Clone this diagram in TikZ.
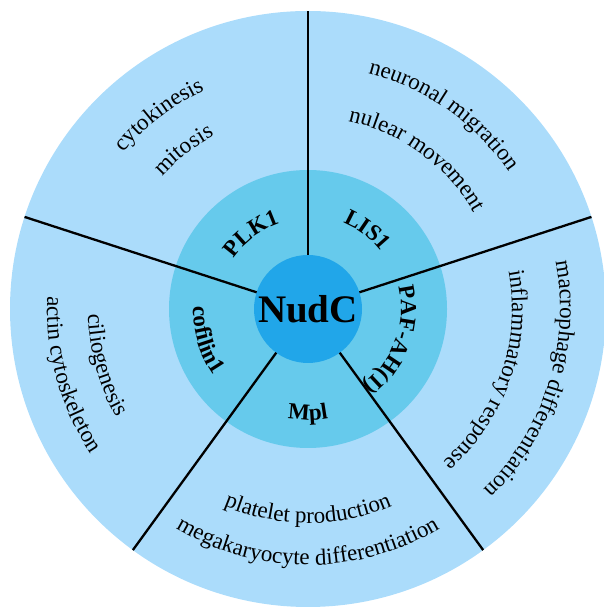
\documentclass[tikz,border=0pt]{standalone}
\usepackage{fontspec}
\setmainfont{Liberation Serif}
\usetikzlibrary{decorations.text}
\definecolor{outerblue}{HTML}{ABDCFB}
\definecolor{ringblue}{HTML}{66CAEC}
\definecolor{coreblue}{HTML}{21A6E9}
\newcommand{\outfont}{\fontsize{23}{26}\selectfont}
\newcommand{\infont}{\bfseries\fontsize{23}{26}\selectfont}
\tikzset{
  divider/.style={draw=black, line width=2.3pt},
  arclabel/.style={decorate, decoration={text along path, text align=center, text={#1}}}
}
\begin{document}
\begin{tikzpicture}[x=1pt,y=1pt]
\useasboundingbox (0,0) rectangle (603,609);
\coordinate (C) at (308,300);
\node[circle, fill=outerblue, minimum size=596pt, inner sep=0pt, outer sep=0pt] (outer) at (C) {};
\node[circle, fill=ringblue, minimum size=278pt, inner sep=0pt, outer sep=0pt] (ring) at (C) {};
\node[circle, fill=coreblue, minimum size=108pt, inner sep=0pt, outer sep=0pt,
      font=\bfseries\fontsize{39}{40}\selectfont] (nudc) at (C) {NudC};
\foreach \a in {90,162,234,306,18}{
  \draw[divider] (nudc.\a) -- (outer.\a);
}
% inner labels, tops outward (clockwise)
\path[arclabel={|\infont|PLK1}] ([shift={(197:90pt)}]C) arc[start angle=197, end angle=57, radius=90pt];
\path[arclabel={|\infont|LIS1}] ([shift={(123:93pt)}]C) arc[start angle=123, end angle=-17, radius=93pt];
\path[arclabel={|\infont|PAF-AH(I)}] ([shift={(50:93pt)}]C) arc[start angle=50, end angle=-90, radius=93pt];
% inner labels, tops inward (counter-clockwise)
\path[arclabel={|\infont|cofilin1}] ([shift={(127:115pt)}]C) arc[start angle=127, end angle=267, radius=115pt];
\path[arclabel={|\infont|Mpl}] ([shift={(200:111pt)}]C) arc[start angle=200, end angle=340, radius=111pt];
% outer labels, tops outward
\path[arclabel={|\outfont|cytokinesis}] ([shift={(197.5:242pt)}]C) arc[start angle=197.5, end angle=57.5, radius=242pt];
\path[arclabel={|\outfont|mitosis}] ([shift={(198:197pt)}]C) arc[start angle=198, end angle=58, radius=197pt];
\path[arclabel={|\outfont|neuronal migration}] ([shift={(125:243pt)}]C) arc[start angle=125, end angle=-15, radius=243pt];
\path[arclabel={|\outfont|nulear movement}] ([shift={(124:192pt)}]C) arc[start angle=124, end angle=-16, radius=192pt];
\path[arclabel={|\outfont|macrophage differentiation}] ([shift={(52.5:252pt)}]C) arc[start angle=52.5, end angle=-87.5, radius=252pt];
\path[arclabel={|\outfont|inflammatory response}] ([shift={(51:204pt)}]C) arc[start angle=51, end angle=-89, radius=204pt];
% outer labels, tops inward
\path[arclabel={|\outfont|ciliogenesis}] ([shift={(125.5:220pt)}]C) arc[start angle=125.5, end angle=265.5, radius=220pt];
\path[arclabel={|\outfont|actin cytoskeleton}] ([shift={(125.5:261pt)}]C) arc[start angle=125.5, end angle=265.5, radius=261pt];
\path[arclabel={|\outfont|platelet production}] ([shift={(200:214pt)}]C) arc[start angle=200, end angle=340, radius=214pt];
\path[arclabel={|\outfont|megakaryocyte differentiation}] ([shift={(200:256pt)}]C) arc[start angle=200, end angle=340, radius=256pt];
\end{tikzpicture}
\end{document}
